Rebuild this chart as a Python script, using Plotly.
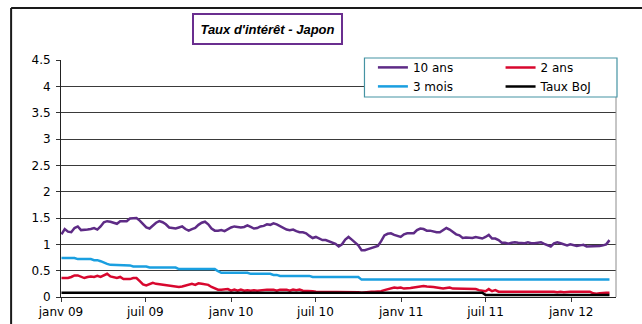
import pandas as pd
import plotly.graph_objects as go

start_date = "2009-01-02"
n_weeks = 169

ten_year = [
    1.19, 1.29, 1.24, 1.23, 1.31, 1.34, 1.27, 1.27, 1.28, 1.29,
    1.31, 1.28, 1.34, 1.42, 1.44, 1.43, 1.41, 1.39, 1.44, 1.44,
    1.44, 1.49, 1.49, 1.50, 1.45, 1.38, 1.32, 1.30, 1.36, 1.41,
    1.44, 1.42, 1.38, 1.32, 1.31, 1.30, 1.32, 1.34, 1.29, 1.26,
    1.29, 1.31, 1.37, 1.41, 1.43, 1.38, 1.30, 1.26, 1.26, 1.27,
    1.25, 1.29, 1.32, 1.34, 1.33, 1.32, 1.33, 1.36, 1.33, 1.30,
    1.31, 1.34, 1.35, 1.38, 1.37, 1.40, 1.38, 1.35, 1.31, 1.28,
    1.27, 1.28, 1.25, 1.23, 1.23, 1.21, 1.16, 1.12, 1.14, 1.11,
    1.08, 1.08, 1.06, 1.04, 1.01, 0.96, 1.00, 1.09, 1.14, 1.09,
    1.03, 0.98, 0.89, 0.89, 0.91, 0.93, 0.94, 0.97, 1.06, 1.17,
    1.20, 1.21, 1.18, 1.16, 1.14, 1.19, 1.21, 1.21, 1.21, 1.27,
    1.30, 1.29, 1.26, 1.26, 1.24, 1.23, 1.23, 1.27, 1.31, 1.28,
    1.23, 1.19, 1.17, 1.12, 1.13, 1.13, 1.12, 1.14, 1.13, 1.11,
    1.14, 1.18, 1.11, 1.11, 1.08, 1.03, 1.03, 1.01, 1.03, 1.04,
    1.03, 1.03, 1.02, 1.04, 1.02, 1.02, 1.03, 1.04, 1.01, 0.98,
    0.96, 1.02, 1.04, 1.02, 1.00, 0.98, 1.00, 0.99, 0.97, 0.98,
    0.99, 0.96, 0.96, 0.97, 0.96, 0.97, 0.98, 1.00, 1.08,
]

two_year = [
    0.36, 0.36, 0.36, 0.38, 0.41, 0.41, 0.38, 0.36, 0.38, 0.39,
    0.38, 0.40, 0.38, 0.41, 0.44, 0.39, 0.38, 0.36, 0.38, 0.34,
    0.34, 0.34, 0.36, 0.36, 0.30, 0.24, 0.22, 0.24, 0.27, 0.25,
    0.24, 0.24, 0.23, 0.21, 0.20, 0.19, 0.19, 0.20, 0.22, 0.24,
    0.25, 0.23, 0.26, 0.25, 0.24, 0.23, 0.19, 0.16, 0.14, 0.14,
    0.14, 0.15, 0.12, 0.14, 0.12, 0.14, 0.12, 0.13, 0.12, 0.13,
    0.12, 0.13, 0.14, 0.14, 0.14, 0.14, 0.12, 0.14, 0.14, 0.14,
    0.12, 0.14, 0.13, 0.14, 0.12, 0.12, 0.12, 0.11, 0.10, 0.10,
    0.10, 0.10, 0.10, 0.10, 0.10, 0.10, 0.09, 0.10, 0.10, 0.09,
    0.09, 0.09, 0.08, 0.09, 0.10, 0.10, 0.10, 0.10, 0.11, 0.13,
    0.15, 0.17, 0.18, 0.17, 0.18, 0.16, 0.16, 0.17, 0.18, 0.19,
    0.20, 0.21, 0.20, 0.20, 0.19, 0.18, 0.17, 0.16, 0.17, 0.18,
    0.16, 0.16, 0.16, 0.16, 0.16, 0.16, 0.15, 0.15, 0.13, 0.12,
    0.11, 0.15, 0.11, 0.13, 0.10, 0.10, 0.10, 0.10, 0.10, 0.10,
    0.10, 0.10, 0.10, 0.10, 0.10, 0.10, 0.10, 0.10, 0.10, 0.11,
    0.10, 0.10, 0.09, 0.10, 0.09, 0.10, 0.10, 0.10, 0.10, 0.10,
    0.10, 0.10, 0.10, 0.07, 0.06, 0.07, 0.08, 0.08, 0.08,
]

three_month = [
    0.74, 0.74, 0.74, 0.74, 0.74, 0.72, 0.72, 0.72, 0.72, 0.72,
    0.70, 0.70, 0.68, 0.65, 0.63, 0.61, 0.61, 0.60, 0.60, 0.60,
    0.60, 0.60, 0.58, 0.58, 0.58, 0.57, 0.58, 0.56, 0.56, 0.56,
    0.56, 0.56, 0.56, 0.56, 0.56, 0.56, 0.53, 0.53, 0.53, 0.53,
    0.53, 0.53, 0.53, 0.53, 0.53, 0.53, 0.53, 0.53, 0.49, 0.46,
    0.46, 0.46, 0.46, 0.46, 0.46, 0.46, 0.46, 0.46, 0.44, 0.44,
    0.44, 0.44, 0.44, 0.44, 0.44, 0.42, 0.42, 0.40, 0.40, 0.40,
    0.40, 0.40, 0.40, 0.40, 0.40, 0.40, 0.40, 0.38, 0.38, 0.38,
    0.38, 0.38, 0.38, 0.38, 0.38, 0.38, 0.38, 0.38, 0.38, 0.38,
    0.38, 0.38, 0.33, 0.33, 0.33, 0.33, 0.33, 0.33, 0.33, 0.33,
    0.33, 0.33, 0.33, 0.33, 0.33, 0.33, 0.33, 0.33, 0.33, 0.33,
    0.33, 0.33, 0.33, 0.33, 0.33, 0.33, 0.33, 0.33, 0.33, 0.33,
    0.33, 0.33, 0.33, 0.33, 0.33, 0.33, 0.33, 0.33, 0.33, 0.33,
    0.33, 0.33, 0.33, 0.33, 0.33, 0.33, 0.33, 0.33, 0.33, 0.33,
    0.33, 0.33, 0.33, 0.33, 0.33, 0.33, 0.33, 0.33, 0.33, 0.33,
    0.33, 0.33, 0.33, 0.33, 0.33, 0.33, 0.33, 0.33, 0.33, 0.33,
    0.33, 0.33, 0.33, 0.33, 0.33, 0.33, 0.33, 0.33, 0.33,
]

boj_rate = [
    0.08, 0.08, 0.08, 0.08, 0.08, 0.08, 0.08, 0.08, 0.08, 0.08,
    0.08, 0.08, 0.08, 0.08, 0.08, 0.08, 0.08, 0.08, 0.08, 0.08,
    0.08, 0.08, 0.08, 0.08, 0.08, 0.08, 0.08, 0.08, 0.08, 0.08,
    0.08, 0.08, 0.08, 0.08, 0.08, 0.08, 0.08, 0.08, 0.08, 0.08,
    0.08, 0.08, 0.08, 0.08, 0.08, 0.08, 0.08, 0.08, 0.08, 0.08,
    0.08, 0.08, 0.08, 0.08, 0.08, 0.08, 0.08, 0.08, 0.08, 0.08,
    0.08, 0.08, 0.08, 0.08, 0.08, 0.08, 0.08, 0.08, 0.08, 0.08,
    0.08, 0.08, 0.08, 0.08, 0.08, 0.08, 0.08, 0.08, 0.08, 0.08,
    0.08, 0.08, 0.08, 0.08, 0.08, 0.08, 0.08, 0.08, 0.08, 0.08,
    0.08, 0.08, 0.08, 0.08, 0.08, 0.08, 0.08, 0.08, 0.08, 0.08,
    0.08, 0.08, 0.08, 0.08, 0.08, 0.08, 0.08, 0.08, 0.08, 0.08,
    0.08, 0.08, 0.08, 0.08, 0.08, 0.08, 0.08, 0.08, 0.08, 0.08,
    0.08, 0.08, 0.08, 0.08, 0.08, 0.08, 0.08, 0.08, 0.08, 0.08,
    0.04, 0.04, 0.04, 0.04, 0.04, 0.04, 0.04, 0.04, 0.04, 0.04,
    0.04, 0.04, 0.04, 0.04, 0.04, 0.04, 0.04, 0.04, 0.04, 0.04,
    0.04, 0.04, 0.04, 0.04, 0.04, 0.04, 0.04, 0.04, 0.04, 0.04,
    0.04, 0.04, 0.04, 0.04, 0.04, 0.04, 0.04, 0.04, 0.04,
]

tick_dates = ["2009-01-01", "2009-07-01", "2010-01-01", "2010-07-01",
              "2011-01-01", "2011-07-01", "2012-01-01"]
tick_labels = ["janv 09", "juil 09", "janv 10", "juil 10",
               "janv 11", "juil 11", "janv 12"]

series_names = ["10 ans", "2 ans", "3 mois", "Taux BoJ"]
series_colors = ["#5E2B86", "#D8072E", "#1A9FE0", "#000000"]
series_legend = ["legend", "legend2", "legend", "legend2"]

dates = pd.date_range(start_date, periods=n_weeks, freq="7D")

fig = go.Figure()
for name, vals, col, lg in zip(series_names,
                               [ten_year, two_year, three_month, boj_rate],
                               series_colors, series_legend):
    fig.add_trace(go.Scatter(x=dates, y=vals, mode="lines", name=name,
                             legend=lg, line=dict(color=col, width=2.5)))

FONT = "DejaVu Sans"
legend_common = dict(
    orientation="v", yanchor="top", xanchor="left",
    bgcolor="rgba(0,0,0,0)", borderwidth=0,
    font=dict(family=FONT, size=12, color="black"),
    traceorder="normal", itemwidth=30, tracegroupgap=0,
)

fig.update_layout(
    width=642, height=324,
    margin=dict(l=61, r=26, t=60, b=27, pad=0, autoexpand=False),
    paper_bgcolor="white", plot_bgcolor="white",
    font=dict(family=FONT, size=12, color="black"),
    hovermode=False,
    showlegend=True,
    legend=dict(x=0.562, y=1.03, **legend_common),
    legend2=dict(x=0.792, y=1.03, **legend_common),
    xaxis=dict(
        type="date", range=["2009-01-01", "2012-04-06"],
        tickvals=tick_dates, ticktext=tick_labels,
        ticks="outside", ticklen=4, tickcolor="#333",
        showgrid=False, showline=True, linecolor="#222", linewidth=1,
        zeroline=False, automargin=False,
        tickfont=dict(family=FONT, size=12),
    ),
    yaxis=dict(
        range=[0, 4.5], dtick=0.5, tick0=0,
        ticks="outside", ticklen=4, tickcolor="#333",
        showgrid=True, gridcolor="#3a3a3a", gridwidth=1,
        showline=True, linecolor="#222", linewidth=1,
        zeroline=False, automargin=False, ticklabelstandoff=3,
        tickfont=dict(family=FONT, size=12),
    ),
    annotations=[dict(
        text="Taux d'intérêt - Japon", xref="paper", yref="paper",
        x=0.372, y=1.13, xanchor="center", yanchor="middle",
        showarrow=False, bordercolor="#6A2E8F", borderwidth=2, borderpad=2,
        width=143, height=24,
        font=dict(family="Liberation Sans", size=13, color="black",
                  weight="bold", style="italic"),
    )],
    shapes=[
        # outer chart frame (left and top edges; the rest is outside the view)
        dict(type="line", xref="paper", yref="paper",
             x0=-0.0899, x1=-0.0899, y0=-0.5, y1=1.2194,
             line=dict(color="#1a1a1a", width=2), layer="below"),
        dict(type="line", xref="paper", yref="paper",
             x0=-0.0899, x1=1.5, y0=1.2194, y1=1.2194,
             line=dict(color="#1a1a1a", width=2), layer="below"),
        # right border of plot area
        dict(type="line", xref="paper", yref="paper",
             x0=1, x1=1, y0=0, y1=1, line=dict(color="#8c8c8c", width=1)),
        # legend box
        dict(type="rect", xref="paper", yref="paper",
             x0=0.5468, x1=1.0018, y0=0.8439, y1=1.0084,
             line=dict(color="#4593A3", width=1.2), fillcolor="white",
             layer="above"),
    ],
)

fig.write_html("out.html")
